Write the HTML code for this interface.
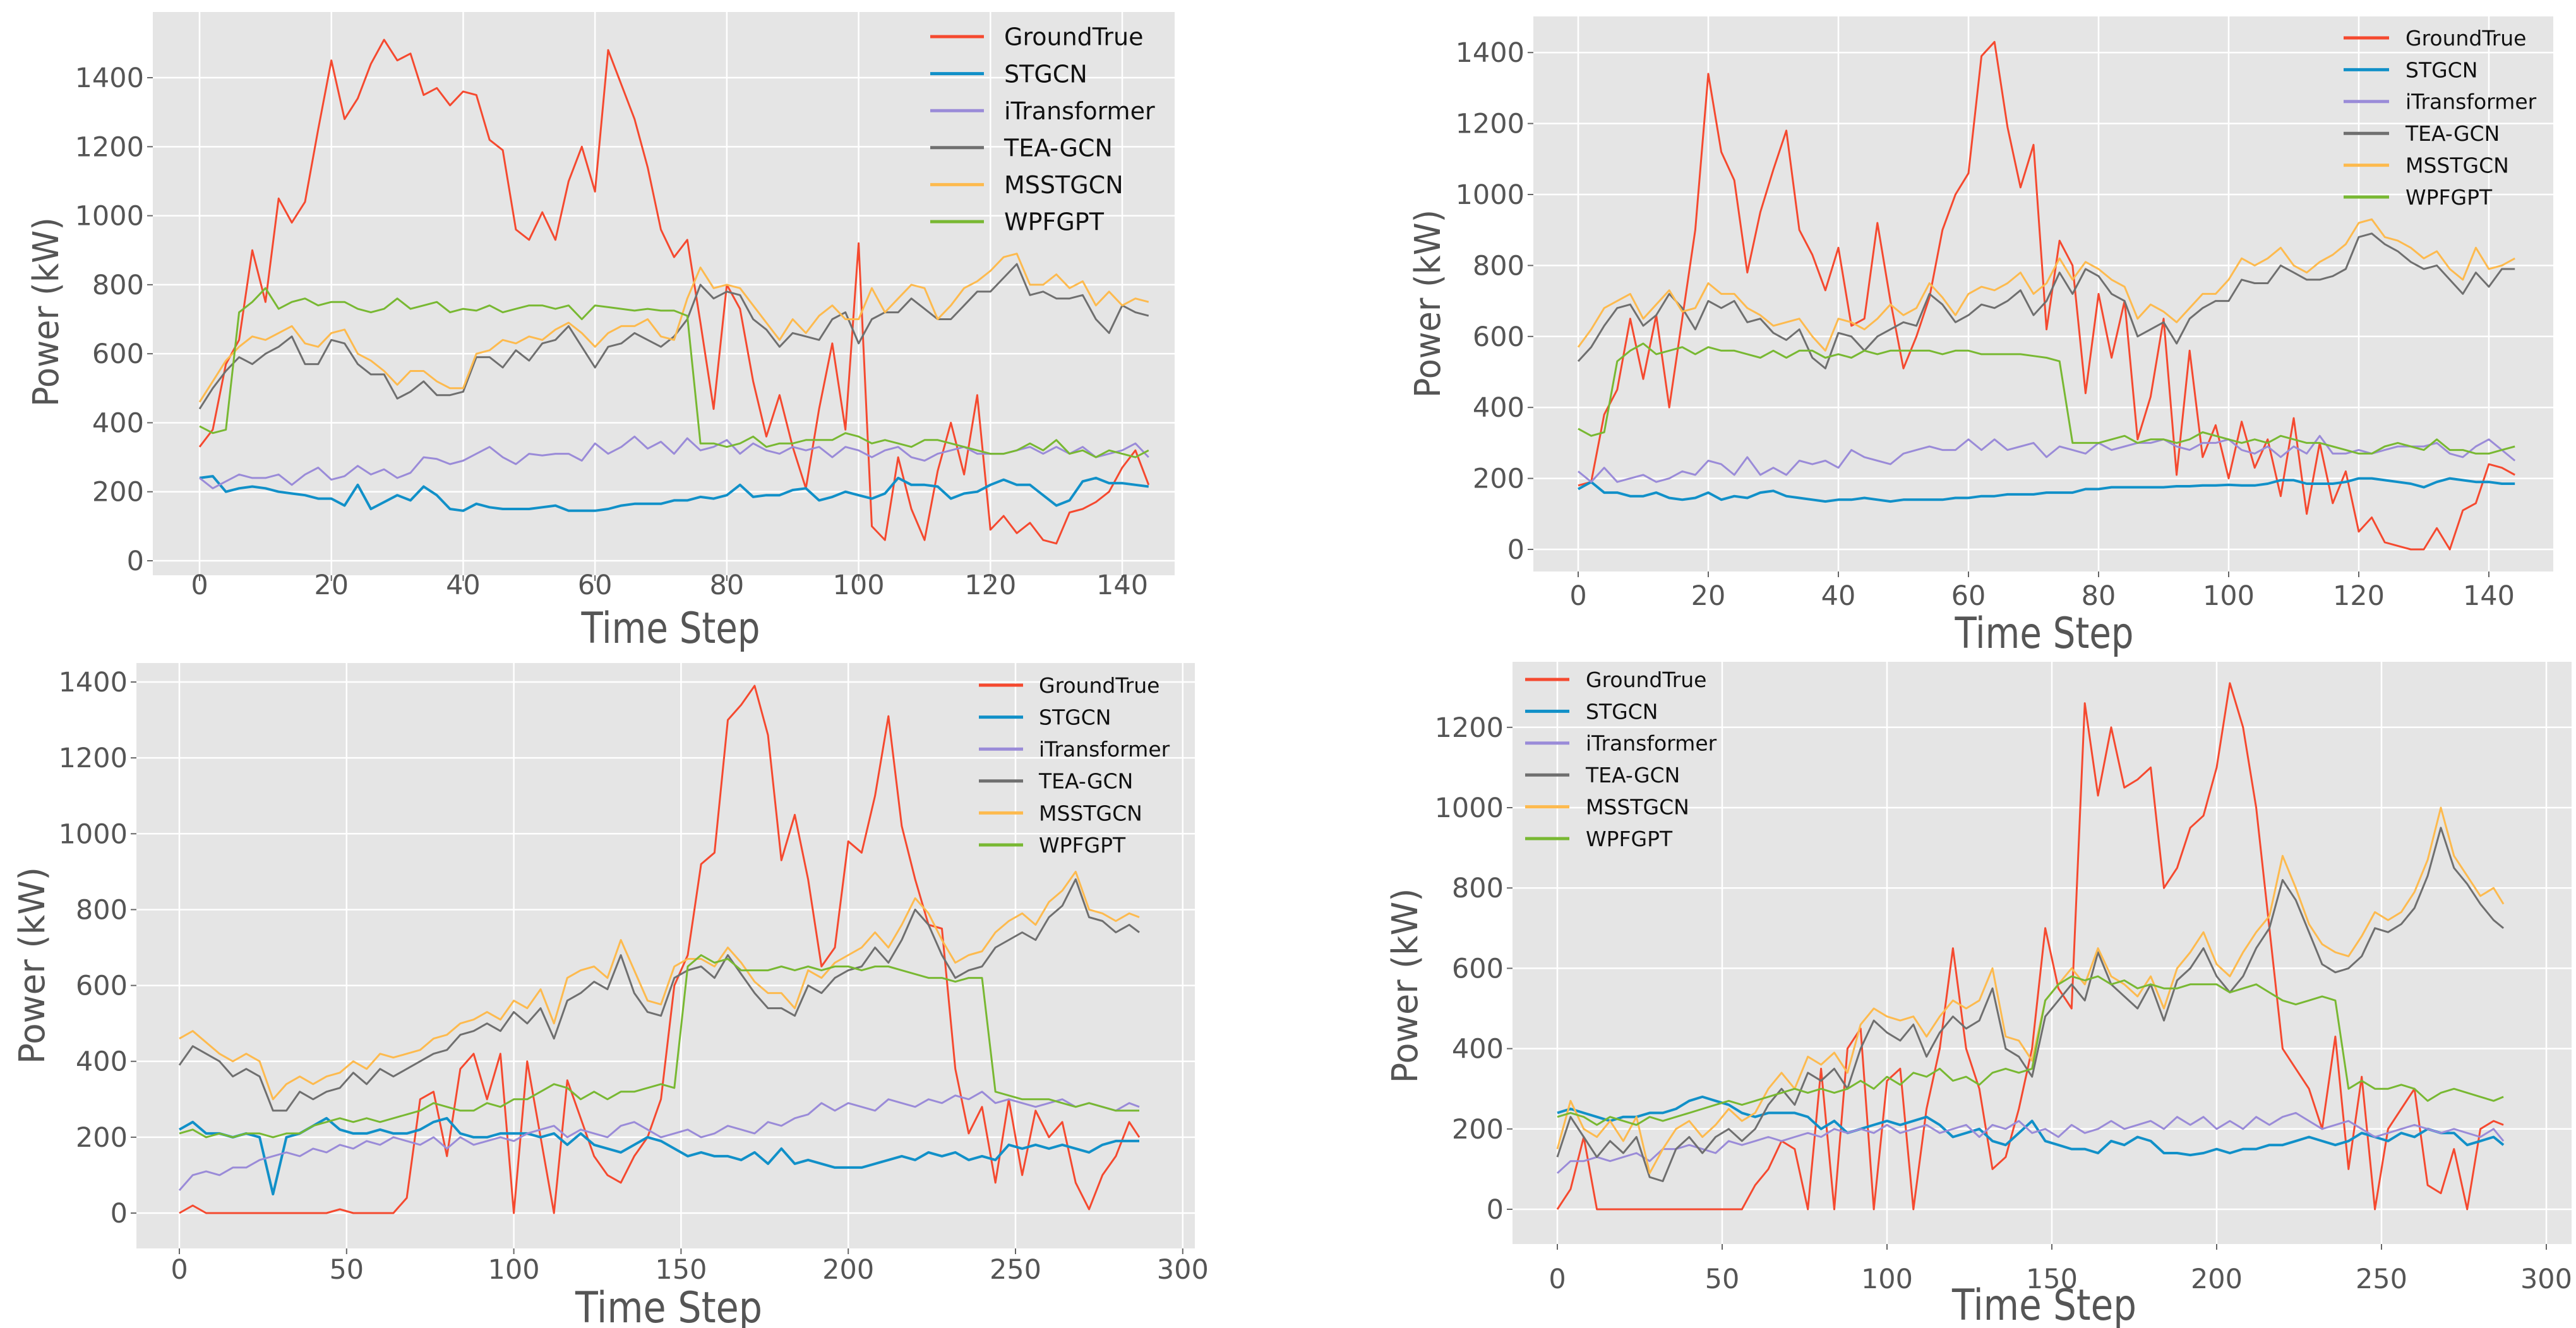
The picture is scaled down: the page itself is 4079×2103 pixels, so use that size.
<!DOCTYPE html>
<html><head><meta charset="utf-8">
<style>
html,body{margin:0;padding:0;background:#fff;}
svg{display:block;}
text{font-family:"DejaVu Sans","Liberation Sans",sans-serif;}
</style></head>
<body>
<svg id="fig" width="4079" height="2103" viewBox="0 0 4079 2103" xmlns="http://www.w3.org/2000/svg"></svg>
<script>
// ---------- Data ----------
const seriesNames = ["GroundTrue","STGCN","iTransformer","TEA-GCN","MSSTGCN","WPFGPT"];
const seriesColors = ["#F5492F","#1190C8","#9A8BD8","#6F6F6F","#FDBA4E","#78B832"];

const topSteps = [0,2,4,6,8,10,12,14,16,18,20,22,24,26,28,30,32,34,36,38,40,42,44,46,48,50,52,54,56,58,60,62,64,66,68,70,72,74,76,78,80,82,84,86,88,90,92,94,96,98,100,102,104,106,108,110,112,114,116,118,120,122,124,126,128,130,132,134,136,138,140,142,144];
const bottomSteps = [0,4,8,12,16,20,24,28,32,36,40,44,48,52,56,60,64,68,72,76,80,84,88,92,96,100,104,108,112,116,120,124,128,132,136,140,144,148,152,156,160,164,168,172,176,180,184,188,192,196,200,204,208,212,216,220,224,228,232,236,240,244,248,252,256,260,264,268,272,276,280,284,287];

// Top-left
const tlGround = [330,380,570,640,900,750,1050,980,1040,1250,1450,1280,1340,1440,1510,1450,1470,1350,1370,1320,1360,1350,1220,1190,960,930,1010,930,1100,1200,1070,1480,1380,1280,1140,960,880,930,690,440,800,730,520,360,480,330,210,440,630,380,920,100,60,300,150,60,260,400,250,480,90,130,80,110,60,50,140,150,170,200,270,320,220];
const tlStgcn = [240,245,200,210,215,210,200,195,190,180,180,160,220,150,170,190,175,215,190,150,145,165,155,150,150,150,155,160,145,145,145,150,160,165,165,165,175,175,185,180,190,220,185,190,190,205,210,175,185,200,190,180,195,240,220,220,215,180,195,200,220,235,220,220,190,160,175,230,240,225,225,220,215];
const tlItrans = [240,210,230,250,240,240,250,220,250,270,235,245,275,250,265,240,255,300,295,280,290,310,330,300,280,310,305,310,310,290,340,310,330,360,325,345,310,355,320,330,350,310,340,320,310,330,320,330,300,330,320,300,320,330,300,290,310,320,330,310,310,310,320,330,310,330,310,330,300,310,320,340,300];
const tlTea = [440,500,550,590,570,600,620,650,570,570,640,630,570,540,540,470,490,520,480,480,490,590,590,560,610,580,630,640,680,620,560,620,630,660,640,620,650,700,800,760,780,770,700,670,620,660,650,640,700,720,630,700,720,720,760,730,700,700,740,780,780,820,860,770,780,760,760,770,700,660,740,720,710];
const tlMss = [460,520,580,620,650,640,660,680,630,620,660,670,600,580,550,510,550,550,520,500,500,600,610,640,630,650,640,670,690,660,620,660,680,680,700,650,640,760,850,790,800,790,740,690,640,700,660,710,740,700,700,790,720,760,800,790,700,740,790,810,840,880,890,800,800,830,790,810,740,780,740,760,750];
const tlWpf = [390,370,380,720,750,790,730,750,760,740,750,750,730,720,730,760,730,740,750,720,730,725,740,720,730,740,740,730,740,700,740,735,730,725,730,725,725,710,340,340,330,340,360,330,340,340,350,350,350,370,360,340,350,340,330,350,350,340,330,320,310,310,320,340,320,350,310,320,300,320,310,300,320];

// Top-right
const trGround = [180,190,380,450,650,480,660,400,650,900,1340,1120,1040,780,950,1070,1180,900,830,730,850,630,650,920,700,510,600,710,900,1000,1060,1390,1430,1190,1020,1140,620,870,800,440,720,540,700,310,430,650,210,560,260,350,200,360,230,310,150,370,100,300,130,220,50,90,20,10,0,0,60,0,110,130,240,230,210];
const trStgcn = [170,190,160,160,150,150,160,145,140,145,160,140,150,145,160,165,150,145,140,135,140,140,145,140,135,140,140,140,140,145,145,150,150,155,155,155,160,160,160,170,170,175,175,175,175,175,178,178,180,180,182,180,180,185,195,195,185,185,185,190,200,200,195,190,185,175,190,200,195,190,190,185,185];
const trItrans = [220,190,230,190,200,210,190,200,220,210,250,240,210,260,210,230,210,250,240,250,230,280,260,250,240,270,280,290,280,280,310,280,310,280,290,300,260,290,280,270,300,280,290,300,300,310,290,280,300,300,310,280,270,290,260,290,270,320,270,270,280,270,280,290,290,290,300,270,260,290,310,280,250];
const trTea = [530,570,630,680,690,630,660,720,680,620,700,680,700,640,650,610,590,620,540,510,610,600,560,600,620,640,630,720,690,640,660,690,680,700,730,660,700,780,720,790,770,720,700,600,620,640,580,650,680,700,700,760,750,750,800,780,760,760,770,790,880,890,860,840,810,790,800,760,720,780,740,790,790];
const trMss = [570,620,680,700,720,650,690,730,670,680,750,720,720,680,660,630,640,650,600,560,650,640,620,650,690,660,680,750,710,660,720,740,730,750,780,720,750,820,760,810,790,760,740,650,690,670,640,680,720,720,760,820,800,820,850,800,780,810,830,860,920,930,880,870,850,820,840,790,760,850,790,800,820];
const trWpf = [340,320,330,530,560,580,550,560,570,550,570,560,560,550,540,560,540,560,560,540,550,540,560,550,560,560,560,560,550,560,560,550,550,550,550,545,540,530,300,300,300,310,320,300,310,310,300,310,330,320,310,300,310,300,320,310,300,300,290,280,270,270,290,300,290,280,310,280,280,270,270,280,290];

// Bottom-left
const blGround = [0,20,0,0,0,0,0,0,0,0,0,0,10,0,0,0,0,40,300,320,150,380,420,300,420,0,400,200,0,350,250,150,100,80,150,200,300,600,680,920,950,1300,1340,1390,1260,930,1050,880,650,700,980,950,1100,1310,1020,880,760,750,380,210,280,80,300,100,270,200,240,80,10,100,150,240,200];
const blStgcn = [220,240,210,210,200,210,200,50,200,210,230,250,220,210,210,220,210,210,220,240,250,210,200,200,210,210,210,200,210,180,210,180,170,160,180,200,190,170,150,160,150,150,140,160,130,170,130,140,130,120,120,120,130,140,150,140,160,150,160,140,150,140,180,170,180,170,180,170,160,180,190,190,190];
const blItrans = [60,100,110,100,120,120,140,150,160,150,170,160,180,170,190,180,200,190,180,200,170,200,180,190,200,190,210,220,230,200,220,210,200,230,240,220,200,210,220,200,210,230,220,210,240,230,250,260,290,270,290,280,270,300,290,280,300,290,310,300,320,290,300,290,280,290,300,280,290,280,270,290,280];
const blTea = [390,440,420,400,360,380,360,270,270,320,300,320,330,370,340,380,360,380,400,420,430,470,480,500,480,530,500,540,460,560,580,610,590,680,580,530,520,620,640,650,620,680,630,580,540,540,520,600,580,620,640,650,700,660,720,800,760,680,620,640,650,700,720,740,720,780,810,880,780,770,740,760,740];
const blMss = [460,480,450,420,400,420,400,300,340,360,340,360,370,400,380,420,410,420,430,460,470,500,510,530,510,560,540,590,500,620,640,650,620,720,640,560,550,650,670,670,650,700,660,610,580,580,540,640,620,660,680,700,740,700,760,830,790,720,660,680,690,740,770,790,760,820,850,900,800,790,770,790,780];
const blWpf = [210,220,200,210,200,210,210,200,210,210,230,240,250,240,250,240,250,260,270,290,280,270,270,290,280,300,300,320,340,330,300,320,300,320,320,330,340,330,650,680,660,670,640,640,640,650,640,650,640,650,650,640,650,650,640,630,620,620,610,620,620,320,310,300,300,300,290,280,290,280,270,270,270];

// Bottom-right
const brGround = [0,50,180,0,0,0,0,0,0,0,0,0,0,0,0,60,100,170,150,0,350,0,400,450,0,320,350,0,250,400,650,400,300,100,130,250,400,700,550,500,1260,1030,1200,1050,1070,1100,800,850,950,980,1100,1310,1200,1000,700,400,350,300,200,430,100,330,0,200,250,300,60,40,150,0,200,220,210];
const brStgcn = [240,250,240,230,220,230,230,240,240,250,270,280,270,260,240,230,240,240,240,230,200,220,190,200,210,220,210,220,230,210,180,190,200,170,160,190,220,170,160,150,150,140,170,160,180,170,140,140,135,140,150,140,150,150,160,160,170,180,170,160,170,190,180,170,190,180,200,190,190,160,170,180,160];
const brItrans = [90,120,120,130,120,130,140,120,150,150,160,150,140,170,160,170,180,170,180,190,180,200,190,200,190,210,190,200,210,190,200,210,180,210,200,220,190,200,180,210,190,200,220,200,210,220,200,230,210,230,200,220,200,230,210,230,240,220,200,210,220,200,180,190,200,210,200,190,200,190,180,200,170];
const brTea = [130,230,180,130,170,140,180,80,70,150,180,140,180,200,170,200,260,300,260,340,320,350,300,400,470,440,420,460,380,440,480,450,470,550,400,380,330,480,520,560,520,640,560,530,500,560,470,570,600,650,580,540,580,650,700,820,770,690,610,590,600,630,700,690,710,750,830,950,850,810,760,720,700];
const brMss = [150,270,200,180,220,170,230,90,150,200,220,180,210,250,220,240,300,340,300,380,360,390,340,460,500,480,470,480,430,480,520,500,520,600,430,420,370,520,560,600,560,650,580,560,530,580,500,600,640,690,610,580,640,690,730,880,800,710,660,640,630,680,740,720,740,790,870,1000,880,830,780,800,760];
const brWpf = [230,240,230,210,230,220,210,230,220,230,240,250,260,270,260,270,280,290,300,290,300,290,300,320,300,330,310,340,330,350,320,330,310,340,350,340,350,520,560,580,570,580,560,570,550,560,550,550,560,560,560,540,550,560,540,520,510,520,530,520,300,320,300,300,310,300,270,290,300,290,280,270,280];

const topXTicks = [0,20,40,60,80,100,120,140];
const bottomXTicks = [0,50,100,150,200,250,300];
const yTicks1400 = [0,200,400,600,800,1000,1200,1400];
const yTicks1200 = [0,200,400,600,800,1000,1200];

// ---------- Drawing ----------
const NS = "http://www.w3.org/2000/svg";
const svg = document.getElementById("fig");
function mk(tag, attrs, parent){
  const e = document.createElementNS(NS, tag);
  for (const k in attrs) e.setAttribute(k, attrs[k]);
  (parent||svg).appendChild(e);
  return e;
}

const panels = [
  {id:"top-left", rect:[242,19,1860,911], x0:316, xs:10.436, y0:888, ys:0.5464, steps:topSteps,
   data:[tlGround,tlStgcn,tlItrans,tlTea,tlMss,tlWpf], xt:topXTicks, yt:yTicks1400, xtY:941,
   leg:{lx1:1473,lx2:1558,tx:1590,y0:58,dy:58.6,fs:38}, ylab:[72,494,300], xlab:[1062,1018,283]},
  {id:"top-right", rect:[2428,26,4043,905], x0:2499, xs:10.3, y0:870, ys:0.562, steps:topSteps,
   data:[trGround,trStgcn,trItrans,trTea,trMss,trWpf], xt:topXTicks, yt:yTicks1400, xtY:958,
   leg:{lx1:3711,lx2:3783,tx:3809,y0:60,dy:50.4,fs:33}, ylab:[2260,481,298], xlab:[3237,1026,283]},
  {id:"bottom-left", rect:[216,1050,1892,1977], x0:284, xs:5.296, y0:1921, ys:0.6007, steps:bottomSteps,
   data:[blGround,blStgcn,blItrans,blTea,blMss,blWpf], xt:bottomXTicks, yt:yTicks1400, xtY:2025,
   leg:{lx1:1550,lx2:1620,tx:1645,y0:1085,dy:50.6,fs:33}, ylab:[50,1529,312], xlab:[1059,2094,296]},
  {id:"bottom-right", rect:[2395,1048,4072,1970], x0:2466, xs:5.22, y0:1915, ys:0.636, steps:bottomSteps,
   data:[brGround,brStgcn,brItrans,brTea,brMss,brWpf], xt:bottomXTicks, yt:yTicks1200, xtY:2040,
   leg:{lx1:2415,lx2:2485,tx:2511,y0:1076,dy:50.4,fs:33}, ylab:[2224,1561,309], xlab:[3237,2090,292]}
];

panels.forEach(p => {
  const g = mk("g", {});
  
  
  const [L,T,R,B] = p.rect;
  const X = v => p.x0 + v * p.xs;
  const Y = v => p.y0 - v * p.ys;
  const bg = mk("rect", {x:L, y:T, width:R-L, height:B-T, fill:"#E5E5E5"}, g);
  
  
  p.yt.forEach(v => {
    const y = Y(v);
    mk("line", {x1:L, x2:R, y1:y, y2:y, stroke:"#fff", "stroke-width":2.5}, g);
    mk("line", {x1:L-9, x2:L, y1:y, y2:y, stroke:"#666", "stroke-width":2}, g);
    const t = mk("text", {x:L-14, y:y+15, "text-anchor":"end", "font-size":43, fill:"#555", "font-family":"Liberation Sans, sans-serif"}, g);
    t.textContent = v;
    
    
  });
  p.xt.forEach(v => {
    const x = X(v);
    mk("line", {x1:x, x2:x, y1:T, y2:B, stroke:"#fff", "stroke-width":2.5}, g);
    mk("line", {x1:x, x2:x, y1:B, y2:B+9, stroke:"#666", "stroke-width":2}, g);
    const t = mk("text", {x:x, y:p.xtY, "text-anchor":"middle", "font-size":43, fill:"#555", "font-family":"Liberation Sans, sans-serif"}, g);
    t.textContent = v;
    
    
  });
  p.data.forEach((arr, si) => {
    const pts = arr.map((v, i) => X(p.steps[i]).toFixed(1) + "," + Y(v).toFixed(1)).join(" ");
    const pl = mk("polyline", {points:pts, fill:"none", stroke:seriesColors[si], "stroke-width": si===1 ? 4 : 3, "stroke-linejoin":"round"}, g);
    
    
  });
  const lg = mk("g", {}, g);
  
  
  seriesNames.forEach((n, si) => {
    const y = p.leg.y0 + si * p.leg.dy;
    mk("line", {x1:p.leg.lx1, x2:p.leg.lx2, y1:y, y2:y, stroke:seriesColors[si], "stroke-width":5}, lg);
    const t = mk("text", {x:p.leg.tx, y:y + p.leg.fs*0.36, "font-size":p.leg.fs, fill:"#111"}, lg);
    t.textContent = n;
    
    
  });
  const yl = mk("text", {x:0, y:0, "text-anchor":"middle", "font-size":56, fill:"#555",
    textLength:p.ylab[2], lengthAdjust:"spacingAndGlyphs",
    transform:"translate(" + (p.ylab[0]+20) + "," + p.ylab[1] + ") rotate(-90)"}, g);
  yl.textContent = "Power (kW)";
  
  
  const xl = mk("text", {x:p.xlab[0], y:p.xlab[1], "text-anchor":"middle", "font-size":68, fill:"#555",
    textLength:p.xlab[2], lengthAdjust:"spacingAndGlyphs", "font-family":"Liberation Sans, sans-serif"}, g);
  xl.textContent = "Time Step";
  
  
});
</script>
</body></html>
